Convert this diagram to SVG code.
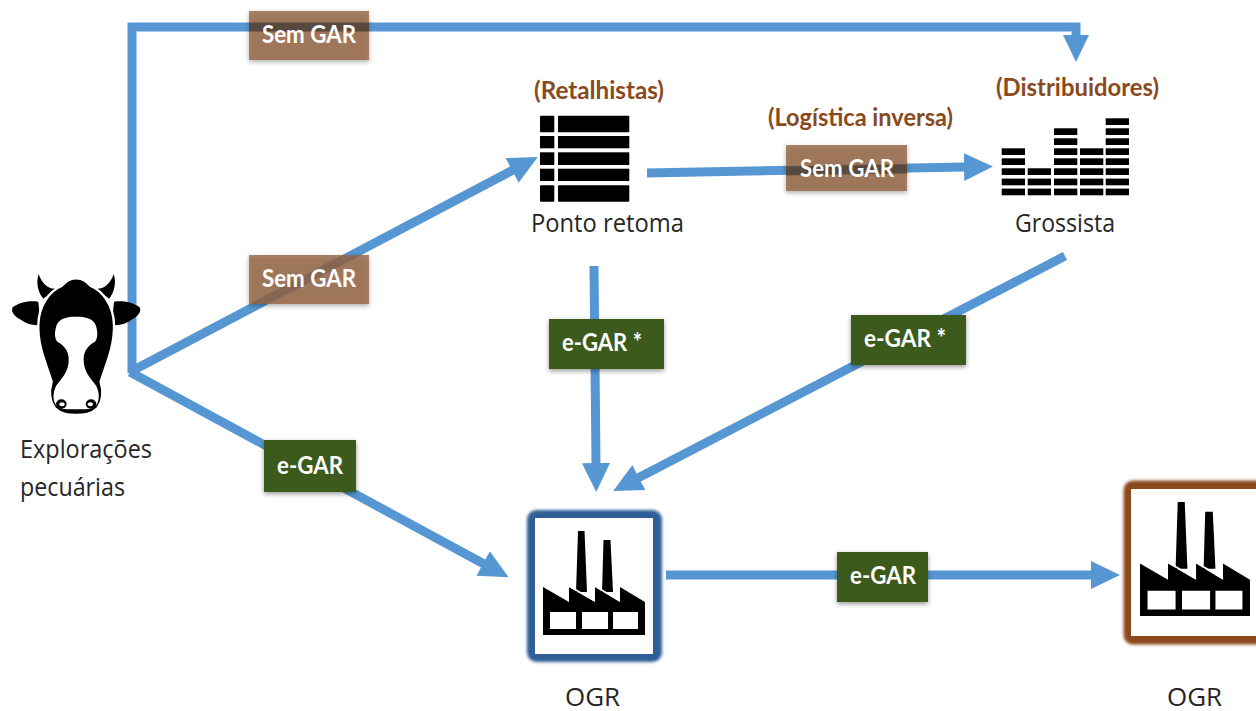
<svg xmlns="http://www.w3.org/2000/svg" width="1256" height="711" viewBox="0 0 1256 711">
<style>
.ln{fill:none;stroke:#5697d3;stroke-width:9}
.hd{marker-end:url(#ah)}
.lbl{font-family:"Open Sans","Liberation Sans",sans-serif;font-size:25px;fill:#262626}
.br{font-family:Lato,"Liberation Sans",sans-serif;font-weight:700;font-size:24px;fill:#8a4a20}
.tag{font-family:Lato,"Liberation Sans",sans-serif;font-weight:700;font-size:24px;fill:#fff;text-anchor:middle}
.sem{fill:#94623f;fill-opacity:.78;filter:url(#sh)}
.eg{fill:#3a5a1f;filter:url(#sh)}
.dk{fill:none;stroke:#2c2c2c;stroke-opacity:.5;stroke-width:9}
.k{fill:#000}
.w{fill:#fff}
</style>
<defs>
<marker id="ah" markerUnits="userSpaceOnUse" markerWidth="32" markerHeight="32" refX="1" refY="16" orient="auto" viewBox="0 0 32 32"><path d="M0,2L29,16L0,30z" fill="#5697d3"/></marker>
<filter id="sh" x="-15%" y="-20%" width="130%" height="150%"><feDropShadow dx="0" dy="2" stdDeviation="2.500" flood-color="#000" flood-opacity=".4"/></filter>
<filter id="gl" x="-10%" y="-10%" width="120%" height="120%"><feGaussianBlur stdDeviation="1.600"/></filter>
<g id="fac">
<path class="k" d="M578,531H584.500L587,592H576zM603.500,540H610.500L613,592H602zM543,587L569,602V587L595,602V587L620,602V587L645,602V635H543z"/>
<path d="M569,586L595,601M595,586L620,601" stroke="#fff" stroke-width="1.500" fill="none"/>
<path class="w" d="M550,612H576V629H550zM582,612H608V629H582zM613,612H638V629H613z"/>
</g>
<g id="cowside">
<path class="k" d="M115,155C85,150 55,158 38,172C32,185 42,198 60,208C78,222 100,228 122,225z"/>
<path class="k" d="M116,72C108,95 112,125 130,146L168,116C145,118 125,100 116,72z"/>
</g>
<g id="nostril">
<ellipse class="k" cx="184" cy="462" rx="16" ry="14"/>
<ellipse class="w" cx="186" cy="463" rx="8" ry="6"/>
</g>
<g id="r"><rect width="23.300" height="6.700" class="k"/></g>
</defs>
<rect width="1256" height="711" fill="#fff"/>
<g id="connectors">
<path class="ln" d="M132,373V27H1076V36"/>
<path class="ln hd" d="M130,372L513,170"/>
<path class="ln hd" d="M647,173L965,167"/>
<path class="ln hd" d="M594,266L596,464"/>
<path class="ln hd" d="M1065,256L638,478"/>
<path class="ln hd" d="M130,372L484,564"/>
<path class="ln hd" d="M666,575H1092"/>
<path d="M1063,35H1089L1076,62z" fill="#5697d3"/>
</g>
<g id="tag-sem-top"><rect class="sem" x="249" y="11" width="120" height="49"/><path class="dk" d="M249,27H369"/><text class="tag" x="309" y="43" textLength="94" lengthAdjust="spacingAndGlyphs">Sem GAR</text></g>
<g id="tag-sem-mid"><rect class="sem" x="249" y="255" width="120" height="49"/><text class="tag" x="309" y="287" textLength="94" lengthAdjust="spacingAndGlyphs">Sem GAR</text></g>
<g id="tag-sem-log"><rect class="sem" x="786" y="145" width="121" height="46"/><path class="dk" d="M786,171L907,169"/><text class="tag" x="847" y="177" textLength="94" lengthAdjust="spacingAndGlyphs">Sem GAR</text></g>
<g id="tag-egar-c"><rect class="eg" x="549" y="319" width="115" height="50"/><text class="tag" x="602" y="351" textLength="80" lengthAdjust="spacingAndGlyphs">e-GAR *</text></g>
<g id="tag-egar-r"><rect class="eg" x="851" y="315" width="115" height="50"/><text class="tag" x="905" y="347" textLength="82" lengthAdjust="spacingAndGlyphs">e-GAR *</text></g>
<g id="tag-egar-l"><rect class="eg" x="264" y="440" width="92" height="52"/><text class="tag" x="310" y="474" textLength="66" lengthAdjust="spacingAndGlyphs">e-GAR</text></g>
<g id="tag-egar-b"><rect class="eg" x="837" y="552" width="91" height="50"/><text class="tag" x="883" y="584" textLength="66" lengthAdjust="spacingAndGlyphs">e-GAR</text></g>
<g id="node-exploracoes">
<g transform="translate(0,250) scale(.33333)">
<use href="#cowside"/><use href="#cowside" transform="translate(457,0) scale(-1,1)"/>
<path class="k" stroke="#fff" stroke-width="7" d="M228.500,85C205,85 195,98 185,108C150,122 116,165 115,225C113,290 140,345 155,395C148,420 145,450 165,475C185,495 210,495 228.500,495C247,495 272,495 292,475C312,450 309,420 302,395C317,345 344,290 342,225C341,165 307,122 272,108C262,98 252,85 228.500,85z"/>
<path class="w" d="M228.500,200C200,200 178,205 170,225C163,245 163,265 172,275C190,285 205,300 206,325C208,365 185,385 168,408C158,430 158,450 168,465C180,480 205,478 228.500,478C252,478 277,480 289,465C299,450 299,430 289,408C272,385 249,365 251,325C252,300 267,285 285,275C294,265 294,245 287,225C279,205 257,200 228.500,200z"/>
<use href="#nostril"/><use href="#nostril" transform="translate(457,0) scale(-1,1)"/>
</g>
<text class="lbl" x="20" y="458" textLength="132" lengthAdjust="spacingAndGlyphs">Explorações</text>
<text class="lbl" x="20" y="496" textLength="105" lengthAdjust="spacingAndGlyphs">pecuárias</text>
</g>
<g id="node-ponto">
<text class="br" x="534" y="99" textLength="130" lengthAdjust="spacingAndGlyphs">(Retalhistas)</text>
<g class="k">
<rect x="540" y="115.700" width="14.300" height="16.600" rx="1"/><rect x="558" y="115.700" width="71.300" height="16.600" rx="1"/>
<rect x="540" y="136" width="14.300" height="12.300"/><rect x="558" y="136" width="71.300" height="12.300"/>
<rect x="540" y="152.300" width="14.300" height="12.700"/><rect x="558" y="152.300" width="71.300" height="12.700"/>
<rect x="540" y="168.700" width="14.300" height="12.300"/><rect x="558" y="168.700" width="71.300" height="12.300"/>
<rect x="540" y="185.300" width="14.300" height="16.400" rx="1"/><rect x="558" y="185.300" width="71.300" height="16.400" rx="1"/>
</g>
<text class="lbl" x="531" y="232" textLength="153" lengthAdjust="spacingAndGlyphs">Ponto retoma</text>
</g>
<text id="label-logistica" class="br" x="768" y="126" textLength="185" lengthAdjust="spacingAndGlyphs">(Logística inversa)</text>
<g id="node-grossista">
<text class="br" x="996" y="96" textLength="163" lengthAdjust="spacingAndGlyphs">(Distribuidores)</text>
<g>
<use href="#r" x="1105.700" y="118.300"/>
<use href="#r" x="1054" y="128.300"/><use href="#r" x="1105.700" y="128.300"/>
<use href="#r" x="1054" y="138.300"/><use href="#r" x="1105.700" y="138.300"/>
<use href="#r" x="1001.700" y="148.300"/><use href="#r" x="1054" y="148.300"/><use href="#r" x="1080" y="148.300"/><use href="#r" x="1105.700" y="148.300"/>
<use href="#r" x="1001.700" y="158.300"/><use href="#r" x="1054" y="158.300"/><use href="#r" x="1080" y="158.300"/><use href="#r" x="1105.700" y="158.300"/>
<use href="#r" x="1001.700" y="168.300"/><use href="#r" x="1027.700" y="168.300"/><use href="#r" x="1054" y="168.300"/><use href="#r" x="1080" y="168.300"/><use href="#r" x="1105.700" y="168.300"/>
<use href="#r" x="1001.700" y="178.600"/><use href="#r" x="1027.700" y="178.600"/><use href="#r" x="1054" y="178.600"/><use href="#r" x="1080" y="178.600"/><use href="#r" x="1105.700" y="178.600"/>
<use href="#r" x="1001.700" y="188.600"/><use href="#r" x="1027.700" y="188.600"/><use href="#r" x="1054" y="188.600"/><use href="#r" x="1080" y="188.600"/><use href="#r" x="1105.700" y="188.600"/>
</g>
<text class="lbl" x="1015" y="232" textLength="100" lengthAdjust="spacingAndGlyphs">Grossista</text>
</g>
<g id="node-ogr1">
<rect x="531.500" y="514.500" width="126" height="143" rx="5" fill="none" stroke="#2f5f96" stroke-width="9" filter="url(#gl)"/>
<rect x="535" y="518" width="119" height="136" fill="#fff"/>
<rect x="533" y="516" width="122" height="140" fill="none" stroke="#2f5f96" stroke-width="4"/>
<use href="#fac"/>
<text class="lbl" x="565" y="706" textLength="55" lengthAdjust="spacingAndGlyphs">OGR</text>
</g>
<g id="node-ogr2">
<rect x="1128" y="485" width="140" height="155" rx="5" fill="none" stroke="#8a4a1c" stroke-width="9" filter="url(#gl)"/>
<rect x="1131" y="489" width="125" height="147" fill="#fff"/>
<rect x="1129.500" y="487.500" width="140" height="150" fill="none" stroke="#8a4a1c" stroke-width="3"/>
<use href="#fac" transform="translate(1140,502) scale(1.078,1.096) translate(-543,-531)"/>
<text class="lbl" x="1167" y="706" textLength="55" lengthAdjust="spacingAndGlyphs">OGR</text>
</g>
</svg>
